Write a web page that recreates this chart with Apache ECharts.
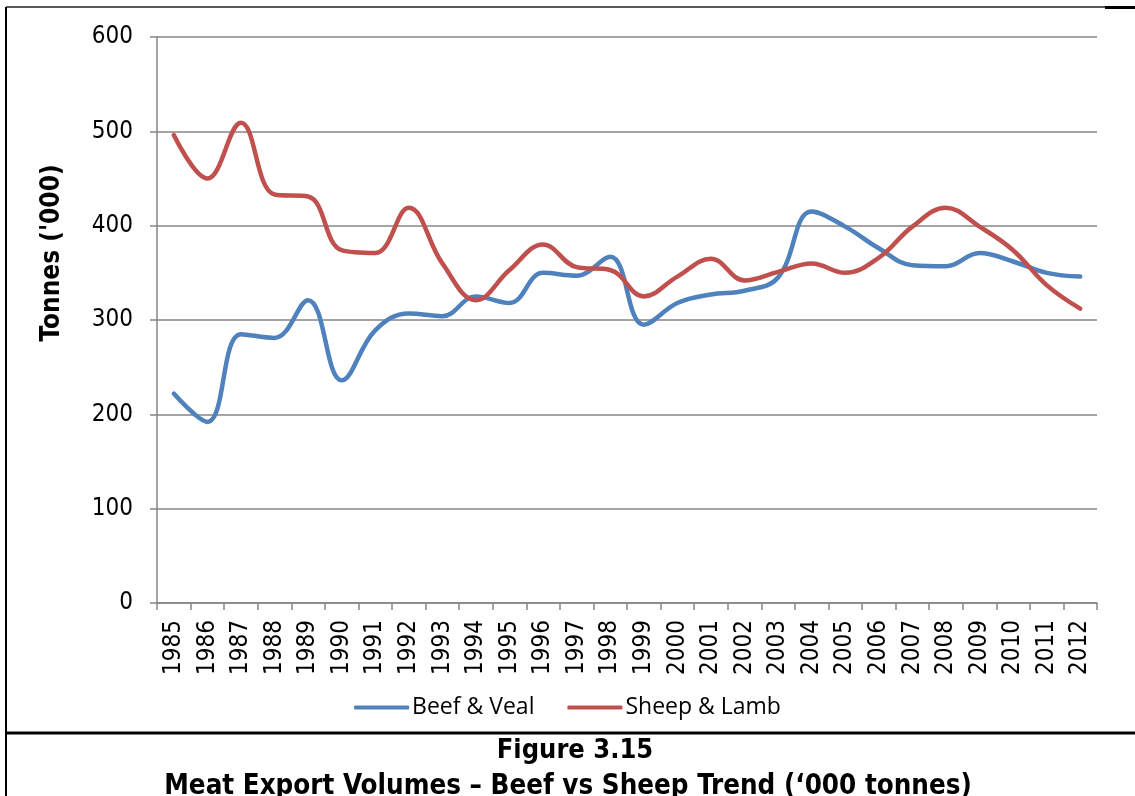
<!DOCTYPE html>
<html>
<head>
<meta charset="utf-8">
<script src="https://cdn.jsdelivr.net/npm/echarts@6/dist/echarts.min.js"></script>
<style>
  html, body { margin: 0; padding: 0; background: #fff; }
  #chart { width: 1135px; height: 796px; }
</style>
</head>
<body>
<div id="chart"></div>
<script>
// years on the x axis
const years = ['1985', '1986', '1987', '1988', '1989', '1990', '1991', '1992', '1993', '1994',
    '1995', '1996', '1997', '1998', '1999', '2000', '2001', '2002', '2003', '2004',
    '2005', '2006', '2007', '2008', '2009', '2010', '2011', '2012'];

// export volumes, '000 tonnes
const beefVeal = [222, 192, 285, 281, 321, 236, 289, 307, 304, 325,
    318, 350, 347, 367, 295, 318, 327, 331, 345, 415,
    399, 376, 358, 357, 371, 362, 350, 346];
const sheepLamb = [496, 450, 509, 433, 431, 374, 371, 419, 360, 321,
    353, 380, 356, 353, 325, 346, 365, 342, 351, 360,
    350, 366, 399, 419, 399, 374, 337, 312];

const yTicks = { min: 0, max: 600, interval: 100 };

const gray = '#868686';
const chart = echarts.init(document.getElementById('chart'));

chart.setOption({
    animation: false,
    grid: { left: 157, right: 38, top: 37, bottom: 193 },
    legend: {
        bottom: 72,
        left: 'center',
        itemWidth: 55,
        itemHeight: 4,
        itemGap: 33,
        icon: 'roundRect',
        textStyle: { fontFamily: 'Open Sans', fontSize: 23, color: '#000', padding: [0, 0, 0, -2] },
        data: ['Beef & Veal', 'Sheep & Lamb']
    },
    xAxis: {
        type: 'category',
        data: years,
        boundaryGap: true,
        axisLine: { lineStyle: { color: gray, width: 1.5 } },
        axisTick: { show: true, length: 7, alignWithLabel: false, lineStyle: { color: gray, width: 1.5 } },
        axisLabel: {
            rotate: 90,
            interval: 0,
            margin: 17,
            fontFamily: 'DejaVu Sans Condensed',
            fontSize: 24,
            color: '#000'
        }
    },
    yAxis: {
        type: 'value',
        min: yTicks.min,
        max: yTicks.max,
        interval: yTicks.interval,
        axisLine: { show: true, lineStyle: { color: gray, width: 1.5 } },
        axisTick: { show: true, length: 7, lineStyle: { color: gray, width: 1.5 } },
        splitLine: { lineStyle: { color: gray, width: 1.5 } },
        axisLabel: {
            margin: 24,
            fontFamily: 'DejaVu Sans Condensed',
            fontSize: 24,
            color: '#000'
        }
    },
    series: [
        {
            name: 'Beef & Veal',
            type: 'line',
            data: beefVeal,
            smooth: 0.4,
            symbol: 'none',
            lineStyle: { width: 4.5, color: '#4F81BD', cap: 'round' },
            itemStyle: { color: '#4F81BD' }
        },
        {
            name: 'Sheep & Lamb',
            type: 'line',
            data: sheepLamb,
            smooth: 0.4,
            symbol: 'none',
            lineStyle: { width: 4.5, color: '#C0504D', cap: 'round' },
            itemStyle: { color: '#C0504D' }
        }
    ],
    graphic: [
        // y axis title
        {
            type: 'text',
            x: 52, y: 253,
            rotation: Math.PI / 2,
            style: {
                text: "Tonnes ('000)",
                fontFamily: 'DejaVu Sans Condensed',
                fontWeight: 'bold',
                fontSize: 26,
                fill: '#000',
                align: 'center',
                verticalAlign: 'middle'
            }
        },
        // frame lines
        { type: 'line', shape: { x1: 6, y1: 7, x2: 1105, y2: 7 }, style: { stroke: '#222', lineWidth: 1.5 } },
        { type: 'line', shape: { x1: 1105, y1: 7.5, x2: 1135, y2: 7.5 }, style: { stroke: '#000', lineWidth: 3 } },
        { type: 'line', shape: { x1: 6, y1: 7, x2: 6, y2: 796 }, style: { stroke: '#000', lineWidth: 2 } },
        { type: 'line', shape: { x1: 6, y1: 733, x2: 1135, y2: 733 }, style: { stroke: '#000', lineWidth: 3 } },
        // figure caption
        {
            type: 'text',
            x: 575, y: 751,
            style: {
                text: 'Figure 3.15',
                fontFamily: 'DejaVu Sans Condensed',
                fontWeight: 'bold',
                fontSize: 27,
                fill: '#000',
                align: 'center',
                verticalAlign: 'middle'
            }
        },
        {
            type: 'text',
            x: 568, y: 787,
            style: {
                text: "Meat Export Volumes \u2013 Beef vs Sheep Trend (\u2018000 tonnes)",
                fontFamily: 'DejaVu Sans Condensed',
                fontWeight: 'bold',
                fontSize: 27.5,
                fill: '#000',
                align: 'center',
                verticalAlign: 'middle'
            }
        }
    ]
});
</script>
</body>
</html>
